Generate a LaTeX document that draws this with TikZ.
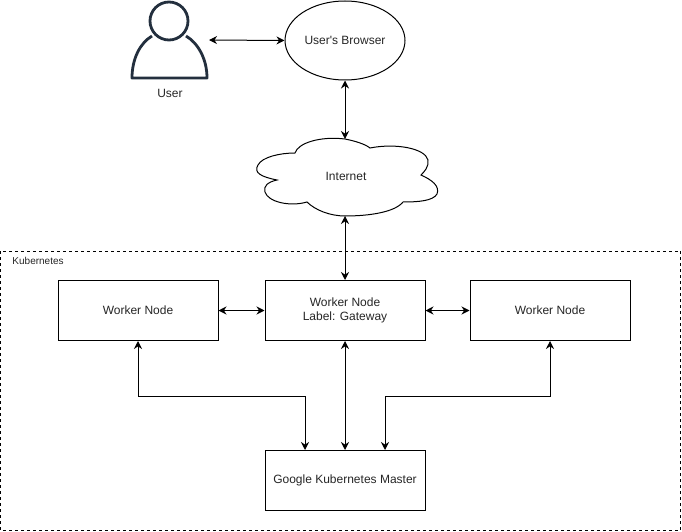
\documentclass[tikz,border=0pt]{standalone}
\usepackage{fontspec}
\setmainfont{Liberation Sans}
\usepackage{tikz}
\usetikzlibrary{arrows.meta,positioning,calc,shapes.geometric}
\definecolor{userblue}{HTML}{232F3E}
\tikzset{
  label12/.style={font=\fontsize{12}{14}\selectfont, text=black!85, align=center},
  workerbox/.style={draw, line width=1pt, fill=white, minimum width=160pt, minimum height=60pt, inner sep=0pt, label12},
  link/.style={{Stealth[length=8pt,width=8pt]}-{Stealth[length=8pt,width=8pt]}, line width=1pt},
}
\begin{document}
\begin{tikzpicture}[x=1pt,y=-1pt,line width=1pt]
  \useasboundingbox (0,0) rectangle (682,532);
  % Kubernetes frame
  \draw[dash pattern=on 3pt off 3pt] (0.5,251) rectangle (680.5,530.5);
  \node[font=\fontsize{10}{12}\selectfont, text=black!85, anchor=west, inner sep=0pt] (k8s) at (12,261) {Kubernetes};
  % User icon
  \draw[userblue, line width=2.8pt] (169,21) circle (19);
  \draw[userblue, line width=2.8pt, line join=round] (152,36)
    .. controls (140,43) and (132,59) .. (132,78) -- (207,78)
    .. controls (207,59) and (198,43) .. (186,36);
  \node[label12, inner sep=0pt] (user) at (170,93) {User};
  \coordinate (userport) at (209,40);
  % Browser
  \node[draw, line width=1pt, ellipse, minimum width=120pt, minimum height=79pt, inner sep=0pt, label12] (browser) at (345,40.5) {User\textquotesingle s Browser};
  % Internet cloud
  \draw[line width=1pt, fill=white] (277,180)
    .. controls (262,177) and (253,173) .. (258,165)
    .. controls (262,157) and (280,153) .. (295,153)
    .. controls (298,143) and (320,136) .. (345,139)
    .. controls (355,141) and (365,144) .. (370,148)
    .. controls (395,143) and (425,148) .. (428,160)
    .. controls (429,167) and (424,172) .. (421,175)
    .. controls (432,180) and (440,186) .. (437,194)
    .. controls (433,201) and (418,202) .. (403,202)
    .. controls (395,212) and (370,216) .. (345,216)
    .. controls (330,216) and (315,210) .. (307,202)
    .. controls (290,207) and (268,202) .. (265,192)
    .. controls (263,186) and (268,182) .. (277,180) -- cycle;
  \node[label12, inner sep=0pt] (internet) at (346,176.5) {Internet};
  \coordinate (cloudtop) at (345,139);
  \coordinate (cloudbottom) at (345,216);
  % Worker nodes
  \node[workerbox] (gateway) at (345,310.5) {Worker Node\\Label: Gateway};
  \node[workerbox] (workerleft) at (138,310.5) {Worker Node};
  \node[workerbox] (workerright) at (550,310.5) {Worker Node};
  \node[workerbox] (master) at (345,480.5) {Google Kubernetes Master};
  % Links
  \draw[link] (userport) -- (browser.west);
  \draw[link] (browser.south) -- (cloudtop);
  \draw[link] (cloudbottom) -- (gateway.north);
  \draw[link] (workerleft.east) -- (gateway.west);
  \draw[link] (gateway.east) -- (workerright.west);
  \draw[link] (gateway.south) -- (master.north);
  \draw[link] (workerleft.south) -- ($(workerleft.south)+(0,55)$) -| ($(master.north)+(-40,0)$);
  \draw[link] (workerright.south) -- ($(workerright.south)+(0,55)$) -| ($(master.north)+(40,0)$);
\end{tikzpicture}
\end{document}
